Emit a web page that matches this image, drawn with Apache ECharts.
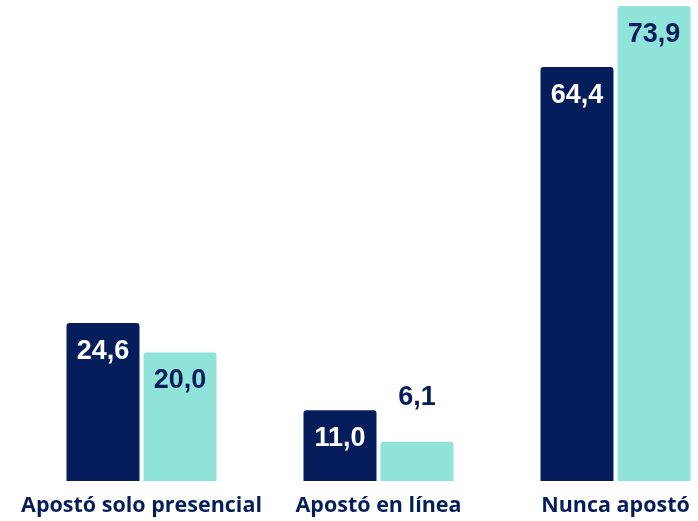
<!DOCTYPE html>
<html>
<head>
<meta charset="utf-8">
<script src="https://cdn.jsdelivr.net/npm/echarts@6/dist/echarts.min.js"></script>
<style>
  html, body { margin: 0; padding: 0; background: #fff; }
  #chart { width: 698px; height: 521px; }
</style>
</head>
<body>
<div id="chart"></div>
<script>
// Betting behaviour, two survey waves (percent)
const categories = ['Apostó solo presencial', 'Apostó en línea', 'Nunca apostó'];
const seriesA = [24.6, 11.0, 64.4];
const seriesB = [20.0, 6.1, 73.9];

const NAVY = '#051E5B';
const TEAL = '#8FE3D8';

const fmt = p => p.value.toFixed(1).replace('.', ',');

const labelFont = {
  fontFamily: 'Liberation Sans, Arial, sans-serif',
  fontWeight: 'bold',
  fontSize: 27
};

const chart = echarts.init(document.getElementById('chart'));
chart.setOption({
  animation: false,
  grid: {
    left: 23, width: 711, top: 6, height: 475,
    containLabel: false,
    outerBoundsMode: 'none'
  },
  xAxis: {
    type: 'category',
    data: categories,
    axisLine: { show: false },
    axisTick: { show: false },
    axisLabel: {
      interval: 0,
      hideOverlap: false,
      color: NAVY,
      fontFamily: 'Open Sans, sans-serif',
      fontWeight: 'bold',
      fontSize: 21.5,
      margin: 14
    }
  },
  yAxis: {
    type: 'value',
    min: 0,
    max: 73.9,
    show: false,
    splitLine: { show: false }
  },
  series: [
    {
      type: 'bar',
      data: seriesA,
      barWidth: 73,
      barGap: '5.5%',
      itemStyle: { color: NAVY, borderRadius: [3, 3, 0, 0] },
      label: Object.assign({
        show: true,
        position: 'insideTop',
        distance: 15,
        color: '#ffffff',
        formatter: fmt
      }, labelFont)
    },
    {
      type: 'bar',
      data: seriesB.map(v => v < 10
        ? { value: v, label: { position: 'top', distance: 31 } }
        : v),
      barWidth: 73,
      itemStyle: { color: TEAL, borderRadius: [3, 3, 0, 0] },
      label: Object.assign({
        show: true,
        position: 'insideTop',
        distance: 15,
        color: NAVY,
        formatter: fmt
      }, labelFont)
    }
  ]
});
</script>
</body>
</html>
